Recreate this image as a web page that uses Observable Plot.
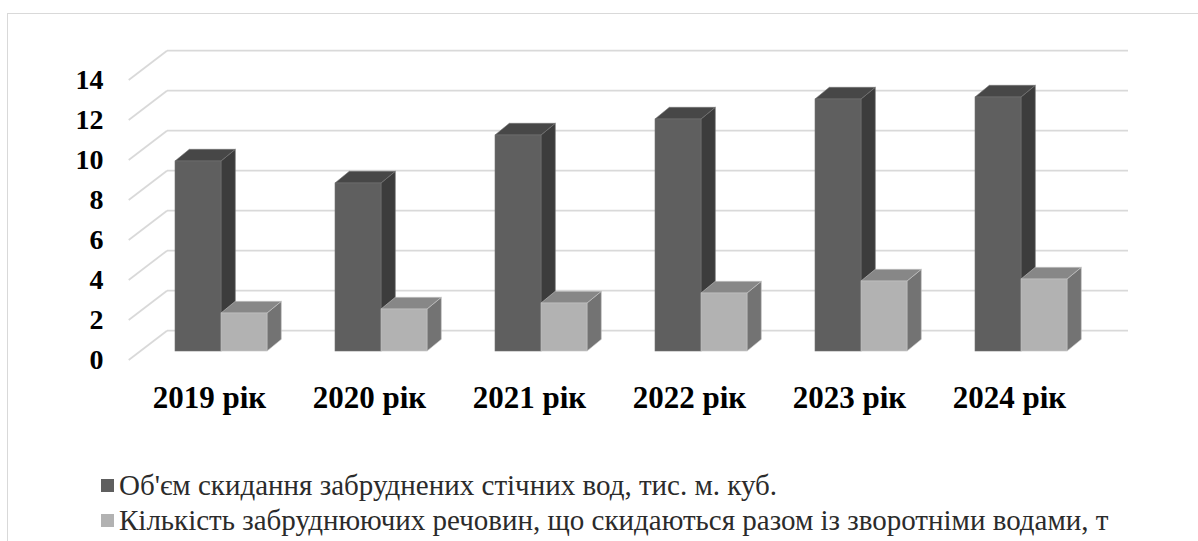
<!DOCTYPE html>
<html>
<head>
<meta charset="utf-8">
<script src="https://cdn.jsdelivr.net/npm/d3@7"></script>
<script src="https://cdn.jsdelivr.net/npm/@observablehq/plot@0.6"></script>
<style>
  html, body { margin: 0; padding: 0; background: #fff; width: 1198px; height: 541px; overflow: hidden; }
  #frame { position: absolute; left: 7px; top: 13px; width: 1240px; height: 600px; border: 1.5px solid #d9d9d9; box-sizing: border-box; }
  #chart { position: absolute; left: 0; top: 0; }
  #legend { position: absolute; left: 101px; top: 468px; font-family: "Liberation Serif", "Times New Roman", serif; font-size: 29px; color: #2b2b2b; }
  .item { display: flex; align-items: center; height: 35px; white-space: nowrap; }
  .sw { width: 13px; height: 13px; margin-right: 5px; display: inline-block; flex: none; }
</style>
</head>
<body>
<div id="frame"></div>
<div id="chart"></div>
<div id="legend"></div>
<script>
// ---- data ----
const years = ["2019 рік", "2020 рік", "2021 рік", "2022 рік", "2023 рік", "2024 рік"];
const volume = [9.5, 8.4, 10.8, 11.6, 12.6, 12.7];        // Об'єм скидання забруднених стічних вод, тис. м. куб.
const pollutants = [1.9, 2.1, 2.4, 2.9, 3.5, 3.6];        // Кількість забруднюючих речовин ..., т
const seriesNames = [
  "Об'єм скидання забруднених стічних вод, тис. м. куб.",
  "Кількість забруднюючих речовин, що скидаються разом із зворотніми водами, т"
];
const yTicks = [0, 2, 4, 6, 8, 10, 12, 14];

// ---- styling (not data) ----
const faces = [
  {front: "#5f5f5f", top: "#474747", side: "#3c3c3c", edge: "#747474"},
  {front: "#b2b2b2", top: "#878787", side: "#737373", edge: "#c4c4c4"}
];
const legendColors = ["#5f5f5f", "#b2b2b2"];
const DX = 14.3, DY = 11.7;          // bar depth offset (px)
const WALL_DX = 26.5, WALL_DY = 20.3; // back wall offset from bar plane
const FLOOR_DX = 11.8, FLOOR_DY = 9;  // front edge offset from bar plane

const data = years.flatMap((year, i) => [
  {year, series: 0, value: volume[i]},
  {year, series: 1, value: pollutants[i]}
]);

const W = 1198, H = 440, ML = 140.5, MR = W - 1101.5;

function bandwidthOf(x) {
  return typeof x.bandwidth === "function" ? x.bandwidth() : 91.7;
}

const gridMark = Plot.ruleY(yTicks, {
  y: d => d,
  render: (index, scales, values, dims) => {
    const g = d3.create("svg:g");
    const x0 = dims.marginLeft, x1 = dims.width - dims.marginRight;
    for (const i of index) {
      const y = scales.y(yTicks[i]);
      const yb = y - WALL_DY;
      g.append("line").attr("x1", x0 + WALL_DX).attr("x2", x1 + WALL_DX).attr("y1", yb).attr("y2", yb)
        .attr("stroke", "#d9d9d9").attr("stroke-width", 1.75);
      g.append("line").attr("x1", x0 - FLOOR_DX).attr("y1", y + FLOOR_DY).attr("x2", x0 + WALL_DX).attr("y2", yb)
        .attr("stroke", "#d9d9d9").attr("stroke-width", 1.75);
    }
    return g.node();
  }
});

const barsMark = Plot.barY(data, {
  x: "year", y1: 0, y2: "value",
  render: (index, scales) => {
    const g = d3.create("svg:g");
    const bw = bandwidthOf(scales.x) / 2;
    const order = Array.from(index).sort((a, b) => (years.indexOf(data[a].year) - years.indexOf(data[b].year)) || (data[a].series - data[b].series));
    for (const i of order) {
      const d = data[i];
      const f = faces[d.series];
      const x0 = scales.x(d.year) + d.series * bw, x1 = x0 + bw;
      const yt = scales.y(d.value), yb = scales.y(0);
      g.append("polygon")
        .attr("points", [[x1, yt], [x1 + DX, yt - DY], [x1 + DX, yb - DY], [x1, yb]].join(" "))
        .attr("fill", f.side).attr("stroke", f.edge).attr("stroke-width", 0.6);
      g.append("polygon")
        .attr("points", [[x0, yt], [x0 + DX, yt - DY], [x1 + DX, yt - DY], [x1, yt]].join(" "))
        .attr("fill", f.top).attr("stroke", f.edge).attr("stroke-width", 0.6);
      g.append("rect").attr("x", x0).attr("y", yt).attr("width", bw).attr("height", yb - yt)
        .attr("fill", f.front).attr("stroke", f.edge).attr("stroke-width", 0.6);
    }
    return g.node();
  }
});

const plot = Plot.plot({
  width: W,
  height: H,
  marginLeft: ML,
  marginRight: MR,
  marginTop: 20,
  marginBottom: 60,
  style: {fontFamily: "'Liberation Serif', 'Times New Roman', serif", background: "transparent", overflow: "visible"},
  x: {domain: years, range: [ML, W - MR], paddingInner: 0.427, paddingOuter: 0.2135, align: 0.5, axis: null},
  y: {domain: [0, 14], range: [351, 71], axis: null},
  marks: [
    gridMark,
    barsMark,
    Plot.text(yTicks, {
      y: d => d, frameAnchor: "left", dx: -37.5, dy: FLOOR_DY, textAnchor: "end",
      text: d => String(d), fontSize: 28, fontWeight: "bold", fill: "black"
    }),
    Plot.text(years, {
      x: d => d, y: () => 0, dx: -12, dy: 47, textAnchor: "middle",
      text: d => d, fontSize: 31, fontWeight: "bold", fill: "black"
    })
  ]
});
document.getElementById("chart").appendChild(plot);

const legend = document.getElementById("legend");
seriesNames.forEach((name, i) => {
  const item = document.createElement("div");
  item.className = "item";
  const sw = document.createElement("span");
  sw.className = "sw";
  sw.style.background = legendColors[i];
  const t = document.createElement("span");
  t.textContent = name;
  item.appendChild(sw);
  item.appendChild(t);
  legend.appendChild(item);
});
</script>
</body>
</html>
